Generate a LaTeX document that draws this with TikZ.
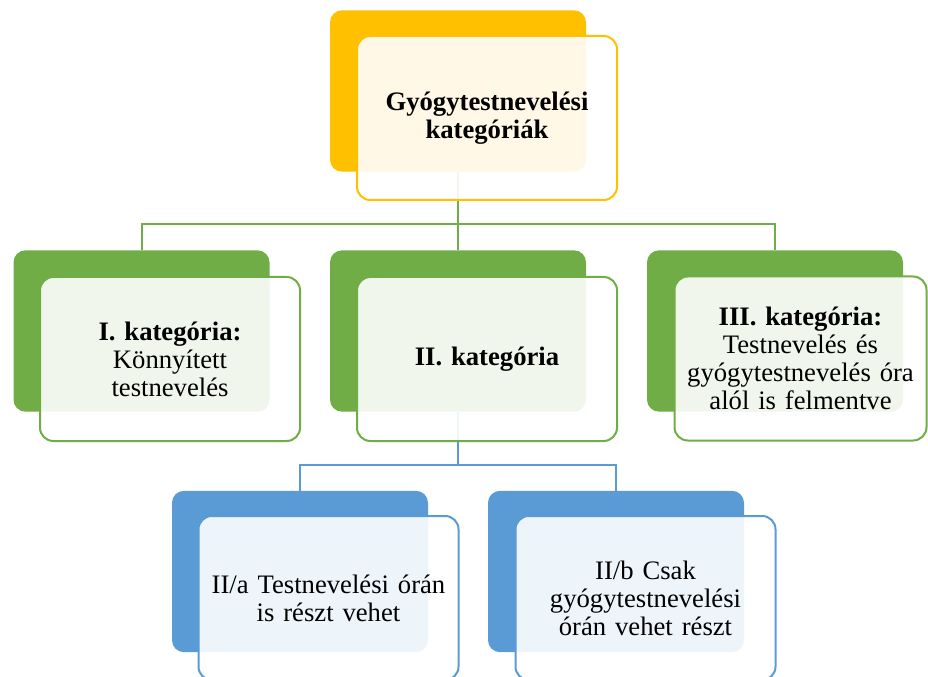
\documentclass[tikz,border=0pt]{standalone}
\usepackage{fontspec}
\setmainfont{Liberation Serif}
\definecolor{cOrange}{HTML}{FFC000}
\definecolor{cGreen}{HTML}{70AD47}
\definecolor{cBlue}{HTML}{5B9BD5}
\begin{document}
\begin{tikzpicture}[x=0.75pt,y=-0.75pt,
  backbox/.style={rectangle, rounded corners=9pt, fill=#1, draw=none,
    minimum width=192pt, minimum height=121pt, inner sep=0pt},
  frontbox/.style={rectangle, rounded corners=10pt, draw=#1, line width=1.5pt,
    fill=white, fill opacity=0.9, text opacity=1,
    minimum width=195pt, minimum height=123pt, inner sep=2pt,
    align=center, text width=185pt,
    font=\fontsize{20}{21}\selectfont},
  conn/.style={draw=#1, line width=1.5pt}
]
\useasboundingbox (0,0) rectangle (928,677);
\clip (0,0) rectangle (928,677);
% back boxes
\node[backbox=cOrange] (topb) at (458,91) {};
\node[backbox=cGreen] (c1b) at (141.5,331) {};
\node[backbox=cGreen] (c2b) at (458,331) {};
\node[backbox=cGreen] (c3b) at (775,331) {};
\node[backbox=cBlue] (d1b) at (300,571.5) {};
\node[backbox=cBlue] (d2b) at (616,571.5) {};
% bus coordinates
\coordinate (gbus) at (0,224);
\coordinate (bbus) at (0,465);
% connectors
\draw[conn=cGreen] (topb.south) -- (topb.south |- gbus) -| (c1b.north);
\draw[conn=cGreen] (topb.south) -- (c2b.north);
\draw[conn=cGreen] (topb.south |- gbus) -| (c3b.north);
\draw[conn=cBlue] (c2b.south) -- (c2b.south |- bbus) -| (d1b.north);
\draw[conn=cBlue] (c2b.south |- bbus) -| (d2b.north);
% front boxes
\node[frontbox=cOrange] (topf) at (487,118) {\textbf{Gyógytestnevelési}\\\textbf{kategóriák}};
\node[frontbox=cGreen] (c1f) at (170,359) {\textbf{I. kategória:}\\Könnyített\\testnevelés};
\node[frontbox=cGreen] (c2f) at (487,359) {\textbf{II. kategória}};
\node[frontbox=cGreen, minimum width=189pt] (c3f) at (800.5,358.5) {\textbf{III. kategória:}\\Testnevelés és\\gyógytestnevelés óra\\alól is felmentve};
\node[frontbox=cBlue] (d1f) at (328.5,598) {II/a Testnevelési órán\\is részt vehet};
\node[frontbox=cBlue] (d2f) at (645.5,598) {II/b Csak\\gyógytestnevelési\\órán vehet részt};
\end{tikzpicture}
\end{document}
